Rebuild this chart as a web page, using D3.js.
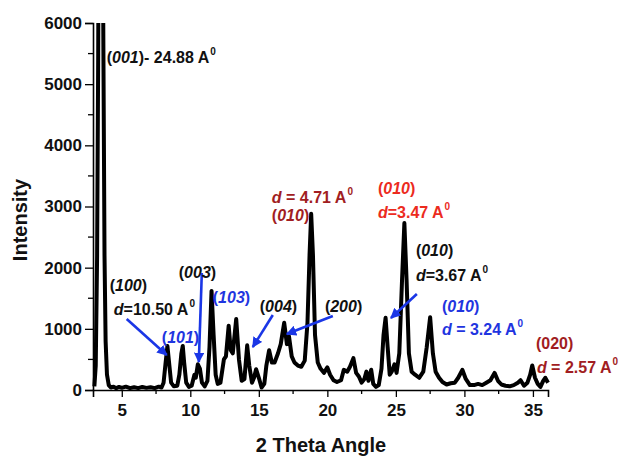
<!DOCTYPE html>
<html>
<head>
    <meta charset="UTF-8">
    <script src="https://cdn.jsdelivr.net/npm/d3@7/dist/d3.min.js"></script>
    <style>
        body { margin: 0; background: #fff; }
        text { font-family: "Liberation Sans", Arial, sans-serif; font-weight: bold; }
    </style>
</head>
<body>
<div id="chart"></div>
<script>
    // 2 theta (deg) and intensity
    var twoTheta = [3.0, 3.1, 3.2, 3.28, 3.33, 3.58, 3.66, 3.74, 3.82, 3.92, 4.05, 4.2, 4.4, 4.6, 4.8, 5.0, 5.3, 5.6, 5.9, 6.2,
        6.5, 6.8, 7.1, 7.4, 7.7, 7.9, 8.05, 8.2, 8.33, 8.45, 8.6, 8.8, 9.05, 9.2, 9.35, 9.45, 9.55, 9.7, 9.9, 10.1,
        10.3, 10.4, 10.55, 10.7, 10.85, 11.05, 11.25, 11.4, 11.55, 11.7, 11.85, 12.0, 12.2, 12.45, 12.6, 12.8, 12.95, 13.1, 13.35, 13.55,
        13.75, 13.95, 14.15, 14.3, 14.5, 14.65, 14.8, 15.0, 15.2, 15.4, 15.55, 15.75, 15.95, 16.15, 16.4, 16.6, 16.85, 17.05, 17.2, 17.4,
        17.6, 17.85, 18.1, 18.35, 18.55, 18.7, 18.82, 18.95, 19.1, 19.3, 19.5, 19.75, 20.0, 20.2, 20.45, 20.7, 21.0, 21.2, 21.45, 21.65,
        21.9, 22.1, 22.3, 22.5, 22.7, 22.85, 23.0, 23.2, 23.35, 23.55, 23.75, 23.95, 24.1, 24.25, 24.4, 24.55, 24.7, 24.9, 25.05, 25.25,
        25.45, 25.62, 25.78, 25.95, 26.15, 26.4, 26.7, 27.0, 27.25, 27.5, 27.7, 27.9, 28.15, 28.4, 28.7, 29.0, 29.3, 29.55, 29.85, 30.1,
        30.4, 30.7, 31.0, 31.3, 31.6, 31.9, 32.2, 32.45, 32.7, 33.0, 33.3, 33.6, 33.9, 34.1, 34.35, 34.6, 34.8, 34.95, 35.15, 35.35,
        35.55, 35.75, 35.9, 36.1];
    var intensity = [60, 400, 2200, 5500, 9000, 9000, 5500, 2200, 800, 250, 80, 40, 55, 30, 50, 35, 55, 30, 45, 30,
        50, 35, 45, 30, 55, 40, 120, 450, 720, 450, 120, 60, 70, 250, 600, 720, 450, 120, 50, 70,
        250, 200, 420, 350, 120, 60, 150, 700, 1620, 900, 250, 100, 120, 500, 550, 1050, 650, 600, 1160, 500,
        150, 180, 730, 400, 120, 200, 340, 200, 40, 100, 400, 650, 450, 450, 600, 750, 1100, 750, 880, 550,
        450, 400, 380, 480, 1100, 2200, 2880, 2200, 900, 450, 350, 280, 370, 250, 160, 130, 160, 330, 300, 380,
        520, 280, 220, 120, 180, 300, 150, 330, 100, 50, 80, 350, 900, 1180, 700, 250, 300, 420, 280, 600,
        1800, 2730, 1800, 600, 300, 250, 200, 300, 700, 1190, 600, 300, 200, 130, 90, 110, 120, 200, 330, 180,
        80, 80, 100, 80, 120, 160, 280, 150, 90, 70, 60, 80, 120, 160, 70, 120, 250, 400, 200, 100,
        50, 150, 200, 120];

    var xTicks = [5, 10, 15, 20, 25, 30, 35];
    var yTicks = [0, 1000, 2000, 3000, 4000, 5000, 6000];

    // peak labels: anchor in (2theta, intensity), parts = [text, italic, superscript]
    var labels = [
        {t: 3.9, v: 5346, c: "#111", parts: [["(", 0], ["001", 1], [")- 24.88 A", 0], ["0", 0, 1]]},
        {t: 15.95, v: 3057, c: "#a11d22", parts: [["d", 1], [" = 4.71 A", 0], ["0", 0, 1]]},
        {t: 15.95, v: 2763, c: "#a11d22", parts: [["(", 0], ["010", 1], [")", 0]]},
        {t: 23.69, v: 3204, c: "#ec2b1e", parts: [["(", 0], ["010", 1], [")", 0]]},
        {t: 23.69, v: 2812, c: "#ec2b1e", parts: [["d", 1], ["=3.47 A", 0], ["0", 0, 1]]},
        {t: 26.46, v: 2191, c: "#111", parts: [["(", 0], ["010", 1], [")", 0]]},
        {t: 26.46, v: 1782, c: "#111", parts: [["d", 1], ["=3.67 A", 0], ["0", 0, 1]]},
        {t: 28.36, v: 1275, c: "#1f35e0", parts: [["(", 0], ["010", 1], [")", 0]]},
        {t: 28.36, v: 899, c: "#1f35e0", parts: [["d", 1], [" = 3.24 A", 0], ["0", 0, 1]]},
        {t: 35.22, v: 670, c: "#a11d22", parts: [["(020)", 0]]},
        {t: 35.29, v: 278, c: "#a11d22", parts: [["d", 1], [" = 2.57 A", 0], ["0", 0, 1]]},
        {t: 4.12, v: 1618, c: "#111", parts: [["(", 0], ["100", 1], [")", 0]]},
        {t: 4.42, v: 1226, c: "#111", parts: [["d", 1], ["=10.50 A", 0], ["0", 0, 1]]},
        {t: 7.92, v: 768, c: "#1f35e0", parts: [["(", 0], ["101", 1], [")", 0]]},
        {t: 9.16, v: 1831, c: "#111", parts: [["(", 0], ["003", 1], [")", 0]]},
        {t: 11.64, v: 1422, c: "#1f35e0", parts: [["(", 0], ["103", 1], [")", 0]]},
        {t: 15.07, v: 1275, c: "#111", parts: [["(", 0], ["004", 1], [")", 0]]},
        {t: 19.82, v: 1275, c: "#111", parts: [["(", 0], ["200", 1], [")", 0]]}
    ];

    // arrows from label to peak: [t0, v0, t1, v1]
    var arrows = [
        [5.36, 1161, 8.28, 572],
        [10.84, 1913, 10.62, 458],
        [16.02, 1226, 14.56, 703],
        [20.4, 1210, 17.04, 915],
        [26.53, 1569, 24.64, 1177]
    ];

    var width = 621, height = 457;
    var svg = d3.select("#chart").append("svg")
            .attr("width", width).attr("height", height);

    var x = d3.scaleLinear().domain([2.9, 36.1]).range([93, 548]);
    var y = d3.scaleLinear().domain([0, 6000]).range([390, 23]);

    svg.append("defs").append("clipPath").attr("id", "clip")
            .append("rect").attr("x", 90).attr("y", 23).attr("width", 470).attr("height", 380);
    svg.select("defs").append("marker")
            .attr("id", "head").attr("viewBox", "0 0 10 10")
            .attr("refX", 9).attr("refY", 5)
            .attr("markerWidth", 4).attr("markerHeight", 4)
            .attr("orient", "auto")
            .append("path").attr("d", "M0,0 L10,5 L0,10 Z").attr("fill", "#1a36e6");

    var pts = twoTheta.map(function(t, i) { return [t, intensity[i]]; });
    var line = d3.line().x(function(d) { return x(d[0]); }).y(function(d) { return y(d[1]); });

    svg.append("path")
            .datum(pts)
            .attr("clip-path", "url(#clip)")
            .attr("d", line)
            .attr("fill", "none")
            .attr("stroke", "#000")
            .attr("stroke-width", 4)
            .attr("stroke-linejoin", "round");

    // axes
    var xAxis = svg.append("g").attr("transform", "translate(0,390)");
    xAxis.call(d3.axisBottom(x).tickValues(xTicks).tickSize(7).tickPadding(7).tickFormat(d3.format("d")));
    xAxis.selectAll(".minor").data(d3.range(7.5, 36, 5)).enter().append("line")
            .attr("x1", function(d) { return x(d); }).attr("x2", function(d) { return x(d); })
            .attr("y1", 0).attr("y2", 4).attr("stroke", "#000").attr("stroke-width", 1.3);

    var yAxis = svg.append("g").attr("transform", "translate(93,0)");
    yAxis.call(d3.axisLeft(y).tickValues(yTicks).tickSize(8).tickPadding(3).tickFormat(d3.format("d")));
    yAxis.selectAll(".minor").data(d3.range(500, 6000, 1000)).enter().append("line")
            .attr("y1", function(d) { return y(d); }).attr("y2", function(d) { return y(d); })
            .attr("x1", 0).attr("x2", -5).attr("stroke", "#000").attr("stroke-width", 1.3);

    svg.selectAll(".domain").attr("stroke-width", 1.6);
    svg.selectAll(".tick line").attr("stroke-width", 1.3);
    svg.selectAll(".tick text")
            .style("font-family", "'Liberation Sans', Arial, sans-serif")
            .style("font-weight", "bold").style("font-size", "17px").attr("fill", "#111");

    svg.append("text")
            .attr("transform", "translate(27,220) rotate(-90)")
            .attr("text-anchor", "middle")
            .style("font-size", "20px")
            .attr("fill", "#111")
            .text("Intensity");

    svg.append("text")
            .attr("x", 321).attr("y", 452)
            .attr("text-anchor", "middle")
            .style("font-size", "20px")
            .attr("fill", "#111")
            .text("2 Theta Angle");

    // arrows
    svg.selectAll(".arrow").data(arrows).enter().append("line")
            .attr("class", "arrow")
            .attr("x1", function(d) { return x(d[0]); }).attr("y1", function(d) { return y(d[1]); })
            .attr("x2", function(d) { return x(d[2]); }).attr("y2", function(d) { return y(d[3]); })
            .attr("stroke", "#1a36e6").attr("stroke-width", 2.6)
            .attr("marker-end", "url(#head)");

    // labels
    labels.forEach(function(l) {
        var txt = svg.append("text")
                .attr("x", x(l.t)).attr("y", y(l.v))
                .attr("fill", l.c)
                .style("font-size", "16px");
        l.parts.forEach(function(p) {
            var ts = txt.append("tspan").text(p[0]);
            if (p[1]) ts.style("font-style", "italic");
            if (p[2]) ts.style("font-size", "10px").attr("dy", -8).attr("dx", 1);
        });
    });
</script>
</body>
</html>
